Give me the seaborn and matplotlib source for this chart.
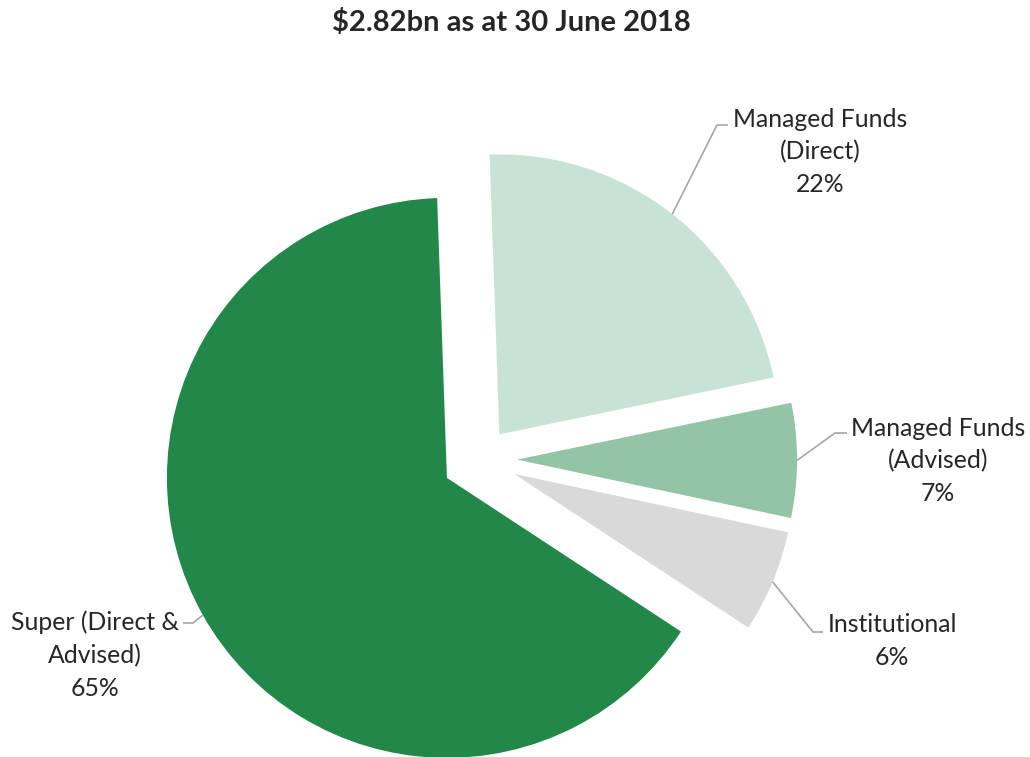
import numpy as np
import matplotlib
matplotlib.use("Agg")
import matplotlib.pyplot as plt
import seaborn as sns

sns.set_theme(style="white")
plt.rcParams['font.family'] = ['Lato', 'DejaVu Sans']

# ---- data ----
categories = ["Managed Funds\n(Direct)", "Managed Funds\n(Advised)", "Institutional", "Super (Direct &\nAdvised)"]
shares = [22.3, 6.6, 5.9, 65.2]
colors = ["#C8E3D5", "#92C4A5", "#D9D9D9", "#21884A"]
title = r"\$2.82bn as at 30 June 2018"

W, H = 1030, 757
fig = plt.figure(figsize=(W / 100, H / 100), dpi=100)
ax = fig.add_axes([0, 0, 1, 1])

def P(x, y):
    return (x, H - y)

cx, cy = P(479.6, 459.5)
R = 280
explode = [32, 37.5, 37.5, 37.5]
wedges, _ = ax.pie(shares, colors=colors, startangle=92, counterclock=False,
                   radius=R, center=(cx, cy), explode=explode,
                   wedgeprops=dict(linewidth=0))
ax.set_xlim(0, W)
ax.set_ylim(0, H)
ax.set_aspect("equal")
ax.axis("off")

# label placement (pixel coords): text centre, elbow, text-side end
label_layout = [
    dict(text=(820, 152), elbow=(717, 125), end=(728, 125), frac=0.5),
    dict(text=(938, 461), elbow=(835, 433), end=(847, 433), frac=0.5),
    dict(text=(892, 641), elbow=(813, 632), end=(823, 632), frac=0.5),
    dict(text=(95, 655), elbow=(193, 623), end=(183, 623), frac=0.5),
]
line_col = "#A6A6A6"
for w, lab, pct, lay in zip(wedges, categories, shares, label_layout):
    th = np.deg2rad(w.theta1 + (w.theta2 - w.theta1) * lay["frac"])
    wx, wy = w.center
    sx = wx + w.r * np.cos(th)
    sy = wy + w.r * np.sin(th)
    ex, ey = P(*lay["elbow"])
    tx, ty = P(*lay["end"])
    ax.plot([sx, ex, tx], [sy, ey, ty], color=line_col, lw=1.2, solid_capstyle="butt")
    ax.text(*P(*lay["text"]), f"{lab}\n{pct:.0f}%", ha="center", va="center",
            fontsize=17.8, color="#262626", linespacing=1.5)

ax.text(*P(511, 23), title, ha="center", va="center", fontsize=21,
        fontweight="bold", color="#262626")

fig.savefig("out.png", dpi=100)
